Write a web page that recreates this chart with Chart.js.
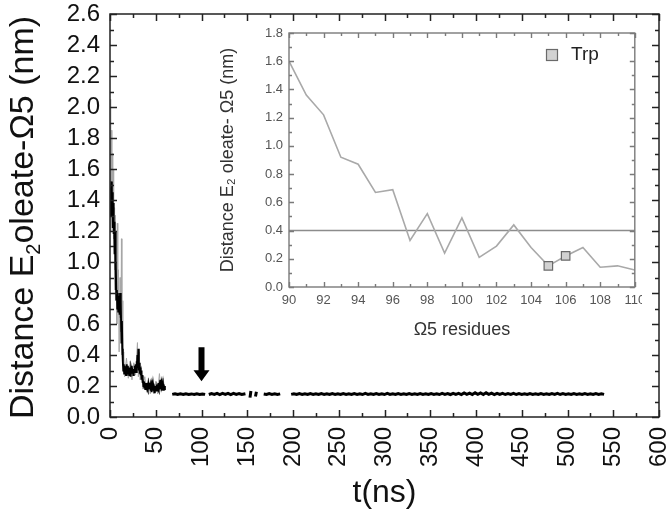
<!DOCTYPE html>
<html lang="en">
<head>
  <meta charset="UTF-8">
  <title>Distance E2 oleate-Ω5 vs time</title>
  <script src="https://cdn.jsdelivr.net/npm/chart.js"></script>
  <style>
    html, body { margin: 0; padding: 0; background: #fff; }
    #wrap { position: relative; width: 670px; height: 514px; }
    #main { position: absolute; left: 0; top: 0; }
    #inset { position: absolute; left: 190px; top: 22px; }
  </style>
</head>
<body>
  <div id="wrap">
    <canvas id="main" width="670" height="514"></canvas>
    <canvas id="inset" width="452" height="323"></canvas>
  </div>

  <script>
    // ---- main trace: [t (ns), distance (nm)], null = no data ----
    // light grey spread of the raw signal during the first 60 ns
    const spreadTrace = [
      [0, 1.30], [0.5, 2.05], [1, 1.20], [1.5, 1.85], [2, 1.40], [2.5, 1.70], [3, 1.25], [3.5, 1.60],
      [4, 1.15], [4.5, 1.35], [5, 0.95], [5.5, 1.30], [6, 0.75], [7, 1.00], [7.5, 0.60], [8, 1.25],
      [8.5, 0.70], [9, 0.95], [10, 0.42], [11, 0.90], [12, 0.55], [12.5, 1.15], [13, 0.40], [13.5, 0.75],
      [14, 0.33], [15, 0.42], [16, 0.26], [18, 0.38], [20, 0.25], [22, 0.36], [24, 0.24], [26, 0.35],
      [28, 0.27], [30, 0.48], [31, 0.26], [32, 0.42], [33, 0.24], [34, 0.33], [36, 0.18], [38, 0.26],
      [40, 0.16], [42, 0.25], [44, 0.15], [46, 0.24], [48, 0.15], [50, 0.23], [52, 0.15], [54, 0.28],
      [56, 0.16], [58, 0.25], [60, 0.17]
    ];
    // black running signal, first 60 ns
    const coreTrace = [
      [0, 1.30], [0.5, 1.48], [1, 1.36], [1.5, 1.52], [2, 1.32], [2.5, 1.45], [3, 1.22], [3.5, 1.38],
      [4, 1.18], [4.5, 1.26], [5, 1.05], [5.5, 1.20], [6, 0.82], [6.5, 1.00], [7, 0.76], [7.5, 0.82],
      [8, 0.70], [8.5, 0.80], [9, 0.68], [9.5, 0.78], [10, 0.72], [10.5, 0.66], [11, 0.80], [11.5, 0.64],
      [12, 0.74], [12.5, 0.48], [13, 0.62], [13.5, 0.44], [14, 0.36], [14.5, 0.30], [15, 0.34], [15.5, 0.28],
      [16, 0.33], [16.5, 0.29], [17, 0.32], [17.5, 0.27], [18, 0.34], [18.5, 0.30], [19, 0.28], [19.5, 0.33],
      [20, 0.29], [20.5, 0.31], [21, 0.27], [21.5, 0.32], [22, 0.30], [22.5, 0.26], [23, 0.31], [23.5, 0.28],
      [24, 0.33], [24.5, 0.29], [25, 0.30], [25.5, 0.27], [26, 0.31], [26.5, 0.29], [27, 0.33], [27.5, 0.30],
      [28, 0.34], [28.5, 0.29], [29, 0.36], [29.5, 0.31], [30, 0.40], [30.5, 0.33], [31, 0.44], [31.5, 0.30],
      [32, 0.35], [32.5, 0.28], [33, 0.32], [33.5, 0.27], [34, 0.30], [34.5, 0.24], [35, 0.27], [35.5, 0.22],
      [36, 0.25], [36.5, 0.20], [37, 0.23], [37.5, 0.19], [38, 0.22], [38.5, 0.18], [39, 0.21], [39.5, 0.19],
      [40, 0.22], [40.5, 0.18], [41, 0.20], [41.5, 0.17], [42, 0.21], [42.5, 0.19], [43, 0.22], [43.5, 0.18],
      [44, 0.20], [44.5, 0.17], [45, 0.19], [45.5, 0.16], [46, 0.20], [46.5, 0.18], [47, 0.21], [47.5, 0.17],
      [48, 0.19], [48.5, 0.16], [49, 0.18], [49.5, 0.17], [50, 0.20], [50.5, 0.18], [51, 0.21], [51.5, 0.17],
      [52, 0.19], [52.5, 0.18], [53, 0.22], [53.5, 0.17], [54, 0.20], [54.5, 0.18], [55, 0.24], [55.5, 0.19],
      [56, 0.21], [56.5, 0.17], [57, 0.20], [57.5, 0.18], [58, 0.21], [58.5, 0.17], [59, 0.19], [59.5, 0.18],
      [60, 0.20]
    ];
    // bound state after ~68 ns, with the gaps of the record
    const boundTrace = [
      [68, 0.146], [71, 0.150], [74, 0.145], [77, 0.149], [80, 0.145], [83, 0.150], [86, 0.146], [89, 0.149],
      [92, 0.145], [95, 0.150], [98, 0.146], [101, 0.149], [104, 0.146], [105, null],
      [108, 0.145], [111, 0.151], [114, 0.146], [117, 0.153], [120, 0.145], [123, 0.152], [126, 0.146],
      [129, 0.153], [132, 0.145], [135, 0.152], [138, 0.146], [141, 0.151], [144, 0.145], [148, 0.150], [149, null],
      [153, 0.125], [154, 0.168], [155, null], [159, 0.132], [160, 0.163], [161, null],
      [168, 0.148], [171, 0.145], [174, 0.151], [177, 0.146], [180, 0.150], [183, 0.145], [186, 0.149], [187, null],
      [198, 0.146], [201, 0.150], [204, 0.145], [207, 0.151], [210, 0.146], [213, 0.150], [216, 0.145],
      [219, 0.151], [222, 0.146], [225, 0.150], [228, 0.145], [231, 0.151], [234, 0.146], [237, 0.150],
      [240, 0.145], [243, 0.151], [246, 0.146], [249, 0.150], [252, 0.145], [255, 0.151], [258, 0.146],
      [261, 0.150], [264, 0.145], [267, 0.151], [270, 0.146], [273, 0.150], [276, 0.145], [279, 0.152],
      [282, 0.146], [285, 0.150], [288, 0.145], [291, 0.151], [294, 0.146], [297, 0.150], [300, 0.145],
      [303, 0.152], [306, 0.146], [309, 0.150], [312, 0.145], [315, 0.151], [318, 0.146], [321, 0.150],
      [324, 0.145], [327, 0.151], [330, 0.146], [333, 0.150], [336, 0.145], [339, 0.151], [342, 0.146],
      [345, 0.150], [348, 0.145], [351, 0.151], [354, 0.146], [357, 0.150], [360, 0.145], [363, 0.152],
      [366, 0.146], [369, 0.151], [372, 0.145], [375, 0.153], [378, 0.146], [381, 0.152], [384, 0.145],
      [387, 0.155], [390, 0.146], [393, 0.154], [396, 0.145], [399, 0.156], [402, 0.146], [405, 0.155],
      [408, 0.145], [411, 0.156], [414, 0.146], [417, 0.154], [420, 0.145], [423, 0.153], [426, 0.146],
      [429, 0.152], [432, 0.145], [435, 0.151], [438, 0.146], [441, 0.152], [444, 0.145], [447, 0.151],
      [450, 0.146], [453, 0.150], [456, 0.145], [459, 0.151], [462, 0.146], [465, 0.150], [468, 0.145],
      [471, 0.151], [474, 0.146], [477, 0.150], [480, 0.145], [483, 0.151], [486, 0.146], [489, 0.152],
      [492, 0.145], [495, 0.151], [498, 0.146], [501, 0.150], [504, 0.145], [507, 0.151], [510, 0.146],
      [513, 0.150], [516, 0.145], [519, 0.151], [522, 0.146], [525, 0.150], [528, 0.145], [531, 0.151],
      [534, 0.146], [537, 0.150], [540, 0.146]
    ];
    // arrow marker: time, top and tip of the arrow (nm)
    const arrowMark = [100, 0.45, 0.23];

    // ---- inset: distance per Ω5 residue ----
    const residues = [90, 91, 92, 93, 94, 95, 96, 97, 98, 99, 100, 101, 102, 103, 104, 105, 106, 107, 108, 109, 110];
    const residueDist = [1.60, 1.36, 1.22, 0.92, 0.87, 0.67, 0.69, 0.33, 0.52, 0.24, 0.49, 0.21, 0.29, 0.44, 0.28, 0.15, 0.22, 0.28, 0.14, 0.15, 0.12];
    const trpResidues = [105, 106];
    const trpDist = [0.15, 0.22];
    const cutoffX = [90, 110];
    const cutoffY = [0.40, 0.40];

    const FONT = "'Liberation Sans', Arial, Helvetica, sans-serif";
    const pairs = list => list.map(p => ({ x: p[0], y: p[1] }));
    // keep the plot box where the layout padding puts it
    const noEdgePad = s => { s.paddingLeft = 0; s.paddingRight = 0; s.paddingTop = 0; s.paddingBottom = 0; };

    // box with inward major + minor ticks on all four sides
    function framePlugin(color, width, majorLen, minorLen) {
      return {
        id: 'frame',
        afterDatasetsDraw(chart) {
          const { ctx, chartArea: a, scales: { x, y } } = chart;
          ctx.save();
          ctx.strokeStyle = color;
          ctx.lineWidth = width;
          ctx.strokeRect(a.left, a.top, a.right - a.left, a.bottom - a.top);
          const draw = (scale, horizontal) => {
            const vals = scale.ticks.map(t => t.value);
            const marks = [];
            vals.forEach((v, i) => {
              marks.push([v, majorLen]);
              if (i < vals.length - 1) marks.push([(v + vals[i + 1]) / 2, minorLen]);
            });
            ctx.beginPath();
            marks.forEach(([v, len]) => {
              const p = Math.round(scale.getPixelForValue(v)) + 0.5;
              if (horizontal) {
                ctx.moveTo(p, a.bottom); ctx.lineTo(p, a.bottom - len);
                ctx.moveTo(p, a.top); ctx.lineTo(p, a.top + len);
              } else {
                ctx.moveTo(a.left, p); ctx.lineTo(a.left + len, p);
                ctx.moveTo(a.right, p); ctx.lineTo(a.right - len, p);
              }
            });
            ctx.stroke();
          };
          draw(x, true);
          draw(y, false);
          ctx.restore();
        }
      };
    }

    // main y title with a real subscript
    const mainYTitle = {
      id: 'mainYTitle',
      afterDraw(chart) {
        const { ctx, chartArea: a } = chart;
        const parts = [['Distance E', 34, 0], ['2', 20, 7], ['oleate-Ω5 (nm)', 34, 0]];
        ctx.save();
        ctx.fillStyle = '#111';
        ctx.textBaseline = 'alphabetic';
        let total = 0;
        parts.forEach(([t, s]) => { ctx.font = s + 'px ' + FONT; total += ctx.measureText(t).width; });
        ctx.translate(33, (a.top + a.bottom) / 2 + 2);
        ctx.rotate(-Math.PI / 2);
        let u = -total / 2;
        parts.forEach(([t, s, dy]) => {
          ctx.font = s + 'px ' + FONT;
          ctx.fillText(t, u, dy);
          u += ctx.measureText(t).width;
        });
        ctx.restore();
      }
    };

    const arrowPlugin = {
      id: 'arrow',
      afterDatasetsDraw(chart) {
        const { ctx, scales: { x, y } } = chart;
        const px = x.getPixelForValue(arrowMark[0]);
        const top = y.getPixelForValue(arrowMark[1]);
        const tip = y.getPixelForValue(arrowMark[2]);
        ctx.save();
        ctx.fillStyle = '#000';
        ctx.beginPath();
        ctx.moveTo(px - 3, top);
        ctx.lineTo(px + 3, top);
        ctx.lineTo(px + 3, tip - 11);
        ctx.lineTo(px + 8, tip - 11);
        ctx.lineTo(px, tip);
        ctx.lineTo(px - 8, tip - 11);
        ctx.lineTo(px - 3, tip - 11);
        ctx.closePath();
        ctx.fill();
        ctx.restore();
      }
    };

    new Chart(document.getElementById('main'), {
      type: 'line',
      data: {
        datasets: [
          { label: 'bound', data: pairs(boundTrace), borderColor: '#000', borderWidth: 3, pointRadius: 0, spanGaps: false },
          { label: 'core', data: pairs(coreTrace), borderColor: '#000', borderWidth: 1.9, pointRadius: 0 },
          { label: 'spread', data: pairs(spreadTrace), borderColor: '#a6a6a6', borderWidth: 1, pointRadius: 0 }
        ]
      },
      options: {
        responsive: false,
        animation: false,
        layout: { padding: { top: 14, right: 11, left: 0, bottom: 0 } },
        plugins: { legend: { display: false }, tooltip: { enabled: false } },
        scales: {
          x: {
            type: 'linear', min: 0, max: 600,
            grid: { display: false, drawTicks: false },
            border: { display: false },
            ticks: { stepSize: 50, autoSkip: false, minRotation: 90, maxRotation: 90, padding: 10, color: '#111', font: { size: 24, family: FONT } },
            title: { display: true, text: 't(ns)', color: '#111', font: { size: 32, family: FONT }, padding: { top: 0, bottom: 2 } },
            afterFit: s => { s.height = 97; noEdgePad(s); }
          },
          y: {
            min: 0, max: 2.6,
            grid: { display: false, drawTicks: false },
            border: { display: false },
            ticks: { stepSize: 0.2, autoSkip: false, padding: 10, color: '#111', font: { size: 24, family: FONT }, callback: v => v.toFixed(1) },
            afterFit: s => { s.width = 110; noEdgePad(s); }
          }
        }
      },
      plugins: [framePlugin('#222', 1.5, 7, 4), mainYTitle, arrowPlugin]
    });

    // inset legend
    const trpLegend = {
      id: 'trpLegend',
      afterDraw(chart) {
        const { ctx } = chart;
        const ds = chart.data.datasets[0];
        ctx.save();
        ctx.fillStyle = ds.backgroundColor;
        ctx.strokeStyle = ds.borderColor;
        ctx.lineWidth = 1.2;
        ctx.fillRect(356, 27, 11, 11);
        ctx.strokeRect(356.5, 27.5, 11, 11);
        ctx.fillStyle = '#222';
        ctx.font = '19px ' + FONT;
        ctx.textBaseline = 'middle';
        ctx.fillText(ds.label, 381, 33);
        ctx.restore();
      }
    };

    new Chart(document.getElementById('inset'), {
      type: 'line',
      data: {
        datasets: [
          {
            label: 'Trp', data: trpResidues.map((r, i) => ({ x: r, y: trpDist[i] })),
            showLine: false, pointStyle: 'rect', pointRadius: 6,
            backgroundColor: '#d2d2d2', borderColor: '#6a6a6a', borderWidth: 1.2
          },
          {
            label: 'distance', data: residues.map((r, i) => ({ x: r, y: residueDist[i] })),
            borderColor: '#a9a9a9', borderWidth: 1.6, pointRadius: 0, tension: 0
          },
          {
            label: 'cutoff', data: cutoffX.map((r, i) => ({ x: r, y: cutoffY[i] })),
            borderColor: '#8c8c8c', borderWidth: 1.4, pointRadius: 0
          }
        ]
      },
      options: {
        responsive: false,
        animation: false,
        layout: { padding: { top: 11, right: 6, left: 0, bottom: 0 } },
        plugins: { legend: { display: false }, tooltip: { enabled: false } },
        scales: {
          x: {
            type: 'linear', min: 90, max: 110,
            grid: { display: false, drawTicks: false },
            border: { display: false },
            ticks: { stepSize: 2, autoSkip: false, maxRotation: 0, padding: 6, color: '#555', font: { size: 13, family: FONT } },
            title: { display: true, text: 'Ω5 residues', color: '#333', font: { size: 18, family: FONT }, padding: { top: 0, bottom: 4 } },
            afterFit: s => { s.height = 58; noEdgePad(s); }
          },
          y: {
            min: 0, max: 1.8,
            grid: { display: false, drawTicks: false },
            border: { display: false },
            ticks: { stepSize: 0.2, autoSkip: false, padding: 6, color: '#555', font: { size: 13, family: FONT }, callback: v => v.toFixed(1) },
            title: { display: true, text: 'Distance E₂ oleate- Ω5 (nm)', color: '#333', font: { size: 18, family: FONT }, padding: { top: 27 } },
            afterFit: s => { s.width = 99; noEdgePad(s); }
          }
        }
      },
      plugins: [framePlugin('#7a7a7a', 1.4, 5, 3), trpLegend]
    });
  </script>
</body>
</html>
